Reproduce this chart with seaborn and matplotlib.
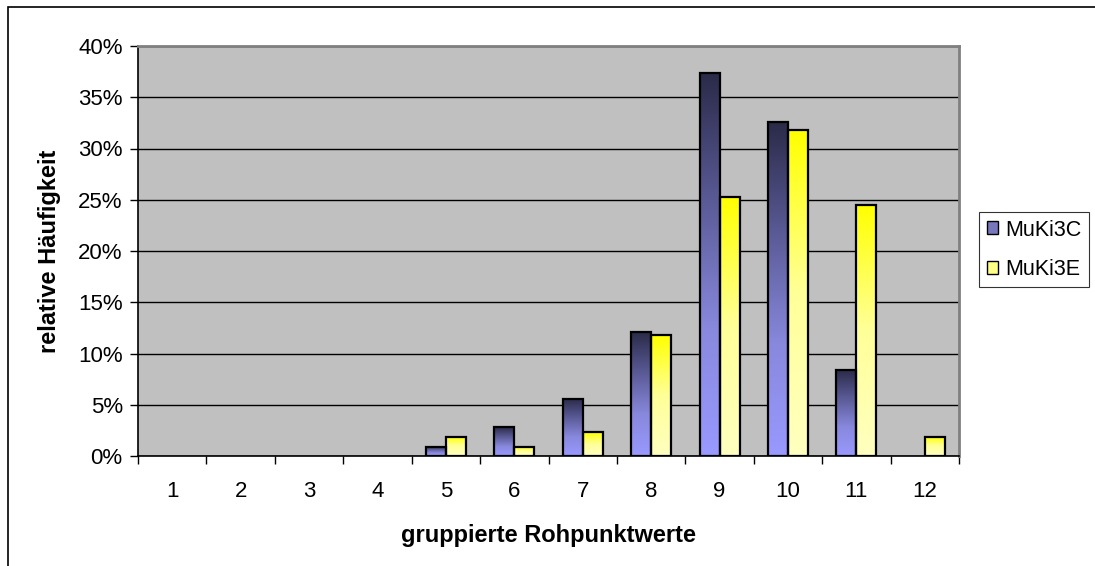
import numpy as np
import pandas as pd
import matplotlib
matplotlib.use("Agg")
import matplotlib.pyplot as plt
import seaborn as sns
from matplotlib.colors import LinearSegmentedColormap
from matplotlib.patches import Rectangle, Patch
from matplotlib.ticker import PercentFormatter

categories = ["1", "2", "3", "4", "5", "6", "7", "8", "9", "10", "11", "12"]
mukI3c = [0.0, 0.0, 0.0, 0.0, 0.9, 2.8, 5.6, 12.1, 37.4, 32.6, 8.4, 0.0]
mukI3e = [0.0, 0.0, 0.0, 0.0, 1.9, 0.9, 2.3, 11.8, 25.3, 31.8, 24.5, 1.9]
series_names = ["MuKi3C", "MuKi3E"]

df = pd.DataFrame({
    "cat": categories * 2,
    "val": mukI3c + mukI3e,
    "series": [series_names[0]] * len(categories) + [series_names[1]] * len(categories),
})

sns.set_theme(style="white")
plt.rcParams["font.family"] = ["Liberation Sans", "DejaVu Sans"]
plt.rcParams.update({"text.color": "black", "axes.labelcolor": "black",
                     "xtick.color": "black", "ytick.color": "black"})

fig = plt.figure(figsize=(10.95, 5.66), dpi=100)
W, H = 1095, 566
ax = fig.add_axes([138 / W, 1 - 456 / H, (959 - 138) / W, (456 - 46) / H])
ax.set_facecolor("#C0C0C0")

sns.barplot(data=df, x="cat", y="val", hue="series", order=categories,
            hue_order=series_names, width=0.585, gap=0, dodge=True,
            palette=["#7777CC", "#FFFF66"], edgecolor="black", linewidth=1.6,
            legend=False, ax=ax, zorder=3)

cmaps = [
    LinearSegmentedColormap.from_list("c", ["#9999FF", "#8888DD", "#5A5A96", "#2A2A48"]),
    LinearSegmentedColormap.from_list("e", ["#FFFFC0", "#FFFF99", "#FFFF00"]),
]
grad = np.linspace(0, 1, 256).reshape(-1, 1)
n = len(categories)
for i, p in enumerate(ax.patches):
    h = p.get_height()
    if h <= 0:
        p.set_visible(False)
        continue
    s = i // n
    x0 = p.get_x(); w = p.get_width()
    im = ax.imshow(grad, cmap=cmaps[s], origin="lower", aspect="auto",
                   extent=[x0, x0 + w, 0, h], zorder=2.5, interpolation="bilinear")
    im.set_clip_path(p)
    p.set_facecolor("none")

ax.set_xlim(-0.5, n - 0.5)
ax.set_ylim(0, 40)
ax.set_yticks(np.arange(0, 41, 5))
ax.yaxis.set_major_formatter(PercentFormatter(decimals=0))
ax.yaxis.grid(True, color="black", linewidth=1.0, zorder=1)
ax.set_axisbelow(True)

ax.set_xticks(np.arange(-0.5, n, 1.0), minor=True)
ax.tick_params(axis="x", which="major", length=0, pad=18, labelsize=16)
ax.tick_params(axis="x", which="minor", length=6, width=1, color="black", direction="out", bottom=True)
ax.tick_params(axis="y", length=6, width=1, color="black", direction="out", left=True, labelsize=16, pad=5)

for side in ["left", "bottom"]:
    ax.spines[side].set_color("black")
    ax.spines[side].set_linewidth(1.2)
for side in ["top", "right"]:
    ax.spines[side].set_color("#808080")
    ax.spines[side].set_linewidth(2)

ax.set_xlabel("gruppierte Rohpunktwerte", fontsize=17, fontweight="bold", labelpad=16)
ax.set_ylabel("relative Häufigkeit", fontsize=17, fontweight="bold", labelpad=12)

handles = [Patch(facecolor="#7777BB", edgecolor="black", linewidth=1),
           Patch(facecolor="#FFFF88", edgecolor="black", linewidth=1)]
leg = fig.legend(handles, series_names, loc="upper left",
                 bbox_to_anchor=(979 / W, 1 - 212 / H), fontsize=15.5,
                 frameon=True, fancybox=False, edgecolor="black",
                 handlelength=0.55, handleheight=0.55, handletextpad=0.3,
                 borderpad=0.35, borderaxespad=0, labelspacing=0.85)
leg.get_frame().set_linewidth(0.8)
leg.set_zorder(10)

fig.patches.append(Rectangle((8 / W, -0.1), 1.2, 1 - 7 / H + 0.1, transform=fig.transFigure,
                             fill=False, edgecolor="black", linewidth=1.2))

fig.savefig("out.png", dpi=100)
